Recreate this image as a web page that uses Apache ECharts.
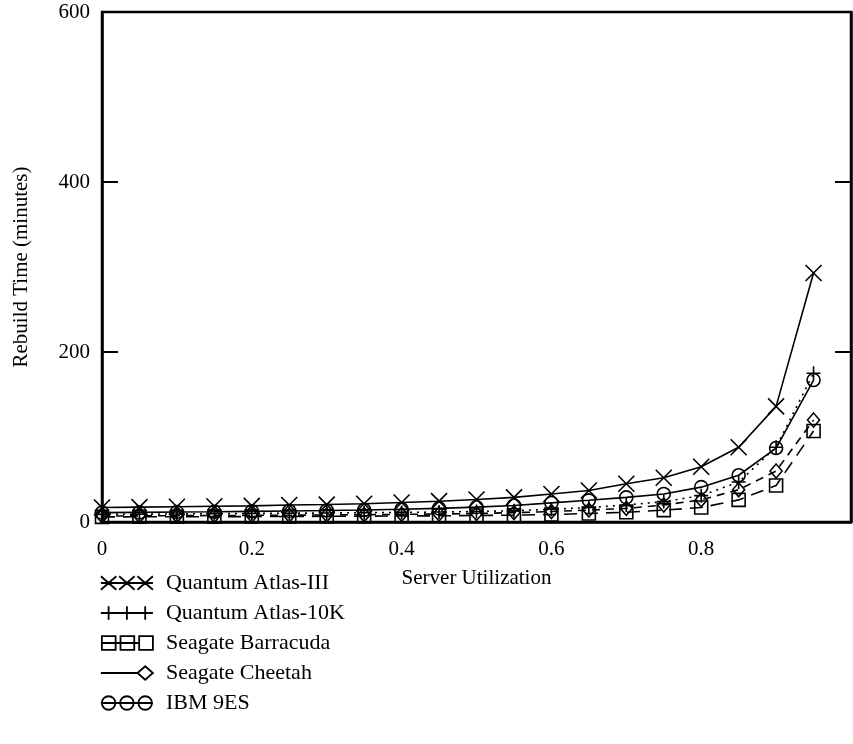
<!DOCTYPE html>
<html>
<head>
<meta charset="utf-8">
<script src="https://cdn.jsdelivr.net/npm/echarts@6/dist/echarts.min.js"></script>
<style>
html,body{margin:0;padding:0;background:#fff;}
#chart{width:853px;height:744px;}
</style>
</head>
<body>
<div id="chart"></div>
<script>
const utilization = [0,0.05,0.1,0.15,0.2,0.25,0.3,0.35,0.4,0.45,0.5,0.55,0.6,0.65,0.7,0.75,0.8,0.85,0.9,0.95];
const atlasIII   = [17,17.5,18,18.5,19,20,20.5,21.5,23,24.5,26.5,29,33,37,45,52,65,88,136,293];
const atlas10K   = [9,9.2,9.5,9.8,10,10.3,10.6,11,11.3,11.7,12.3,13.3,15,17,20,24,31,47,88,175];
const barracuda  = [6,6.1,6.2,6.3,6.4,6.5,6.7,6.9,7.1,7.3,7.6,8,8.8,10,11.5,14,17,26,43,107];
const cheetah    = [7,7.2,7.4,7.6,7.8,8,8.3,8.6,9,9.4,10,11,12.3,14,16,20,26,38,60,120];
const ibm9es     = [11,11.3,11.7,12,12.5,13,13.5,14.2,15,16,17.5,19.5,22.5,25.5,29,33,41,55,87,167];
const seriesNames = ['Quantum Atlas-III','Quantum Atlas-10K','Seagate Barracuda','Seagate Cheetah','IBM 9ES'];
const yTicks = [0,200,400,600];
const xTicks = [0,0.2,0.4,0.6,0.8];

const FONT = 'Liberation Serif';
const FS = 21;
const chart = echarts.init(document.getElementById('chart'), null, {renderer:'canvas'});

function pairs(ys){ return utilization.map((x,i)=>[x, ys[i]]); }
const mk = {color:'rgba(0,0,0,0)', borderColor:'#000', borderWidth:1.6};

const icons = [
  'path://M0,0L16,14M0,14L16,0M19,0L35,14M19,14L35,0M38,0L54,14M38,14L54,0M0,7L54,7',
  'path://M8,0L8,14M27,0L27,14M46,0L46,14M0,7L54,7',
  'path://M1,0L15,0L15,14L1,14ZM20,0L34,0L34,14L20,14ZM39,0L53,0L53,14L39,14ZM0,7L39,7',
  'path://M0,7L38,7M38,7L46,0L54,7L46,14Z',
  'path://M1,7A7,7 0 1,0 15,7A7,7 0 1,0 1,7ZM20,7A7,7 0 1,0 34,7A7,7 0 1,0 20,7ZM39,7A7,7 0 1,0 53,7A7,7 0 1,0 39,7ZM0,7L54,7'
];

const defs = [
  {data:atlasIII, symbol:'path://M0,0L10,10M0,10L10,0', size:16, line:'solid'},
  {data:atlas10K, symbol:'path://M5,0L5,10M0,5L10,5', size:14, line:[2,5]},
  {data:barracuda, symbol:'rect', size:13, line:[13,8]},
  {data:cheetah, symbol:'diamond', size:[12,14], line:[8,6]},
  {data:ibm9es, symbol:'circle', size:13, line:'solid'}
];

const series = defs.map((d,i)=>({
  name: seriesNames[i],
  type:'line',
  data: pairs(d.data),
  symbol: d.symbol,
  symbolSize: d.size,
  showAllSymbol: true,
  itemStyle: mk,
  lineStyle: {color:'#000', width:1.6, type:d.line},
  smooth: false,
  z: 2+i,
  animation:false
}));

chart.setOption({
  animation:false,
  backgroundColor:'#fff',
  grid:{left:102, right:2, top:12, bottom:222, show:true, borderColor:'#000', borderWidth:2.5, containLabel:false},
  xAxis:{
    type:'value', min:0, max:1, interval:0.2,
    name:'Server Utilization', nameLocation:'middle', nameGap:46,
    nameTextStyle:{fontFamily:FONT, fontSize:FS, color:'#000'},
    axisLine:{show:true, lineStyle:{color:'#000', width:2.5}},
    axisTick:{show:false},
    splitLine:{show:false},
    axisLabel:{fontFamily:FONT, fontSize:FS, color:'#000', margin:17,
      showMaxLabel:false,
      formatter:v=> xTicks.some(t=>Math.abs(t-v)<1e-9) ? String(+v.toFixed(1)) : ''}
  },
  yAxis:[{
    type:'value', min:0, max:600, interval:200,
    name:'Rebuild Time (minutes)', nameLocation:'middle', nameGap:70,
    nameTextStyle:{fontFamily:FONT, fontSize:FS, color:'#000'},
    axisLine:{show:true, lineStyle:{color:'#000', width:2.5}},
    axisTick:{show:true, inside:true, length:16, lineStyle:{color:'#000', width:2}},
    splitLine:{show:false},
    axisLabel:{fontFamily:FONT, fontSize:FS, color:'#000', margin:12, padding:[6,0,0,0],
      formatter:v=> yTicks.includes(v) ? String(v) : ''}
  },{
    type:'value', min:0, max:600, interval:200, position:'right',
    axisLine:{show:true, lineStyle:{color:'#000', width:2.5}},
    axisTick:{show:true, inside:true, length:16, lineStyle:{color:'#000', width:2}},
    axisLabel:{show:false},
    splitLine:{show:false}
  }],
  legend:{
    orient:'vertical', left:95, top:567,
    itemWidth:52, itemHeight:14, itemGap:8,
    textStyle:{fontFamily:FONT, fontSize:22, color:'#000', padding:[0,0,0,8]},
    itemStyle:{color:'rgba(0,0,0,0)', borderColor:'#000', borderWidth:1.8},
    data: seriesNames.map((n,i)=>({name:n, icon:icons[i]}))
  },
  series: series
});
</script>
</body>
</html>
